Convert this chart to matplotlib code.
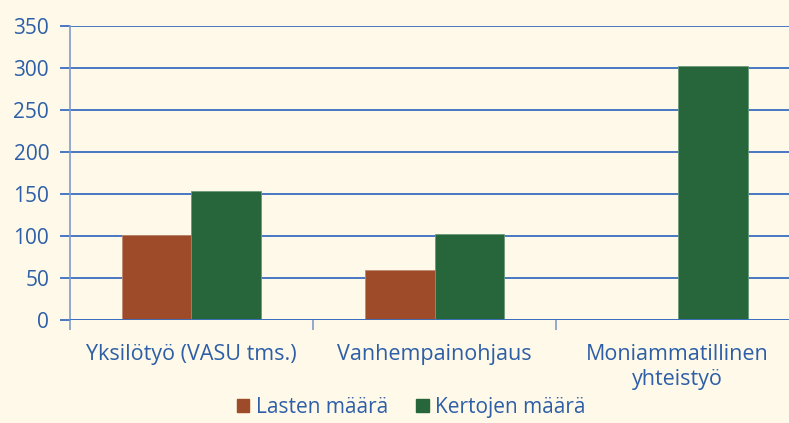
import numpy as np
import matplotlib
matplotlib.use("Agg")
import matplotlib.pyplot as plt
from matplotlib.patches import Patch

plt.rcParams["font.family"] = ["Open Sans", "DejaVu Sans"]

categories = ["Yksilötyö (VASU tms.)", "Vanhempainohjaus", "Moniammatillinen\nyhteistyö"]
lasten = [101, 60, 0]
kertojen = [153, 102, 302]
series_names = ["Lasten määrä", "Kertojen määrä"]

bg = "#FEF9E8"
txt = "#2D5EA8"
grid_c = "#3A6EC0"
red = "#9E4B2A"
green = "#27663A"

fig = plt.figure(figsize=(7.89, 4.23), dpi=100, facecolor=bg)
ax = fig.add_axes([0.0887, 0.2435, 0.924, 0.695], facecolor=bg)

x = np.arange(len(categories))
w = 0.288
ax.bar(x - w / 2, lasten, w, color=red, edgecolor="#C08A70", linewidth=0.6, zorder=3)
ax.bar(x + w / 2, kertojen, w, color=green, edgecolor="#6A9A78", linewidth=0.6, zorder=3)

ax.set_xlim(-0.5, 2.5)
ax.set_ylim(0, 350)
ax.set_yticks(np.arange(0, 351, 50))
ax.yaxis.grid(True, color=grid_c, linewidth=1.3, zorder=0)
ax.set_axisbelow(True)
for s in ["top", "right", "bottom"]:
    ax.spines[s].set_visible(False)
ax.spines["left"].set_color("#7F9CC8")
ax.spines["left"].set_linewidth(1.2)

ax.tick_params(axis="y", colors=grid_c, labelcolor=txt, labelsize=15,
               length=7, width=1.3, pad=8)
ax.set_xticks([-0.5, 0.5, 1.5])
ax.set_xticklabels([])
ax.set_xticks(x, minor=True)
ax.set_xticklabels(categories, minor=True, linespacing=1.3)
ax.tick_params(axis="x", which="major", colors="#7F9CC8", length=7, width=1.2)
ax.tick_params(axis="x", which="minor", length=0, labelcolor=txt, labelsize=15.5, pad=17)
ax.axhline(0, color=grid_c, linewidth=1.3, zorder=4)

handles = [Patch(color=red), Patch(color=green)]
fig.legend(handles, series_names, loc="lower center", bbox_to_anchor=(0.521, -0.032),
           ncol=2, frameon=False, fontsize=15, labelcolor=txt,
           handlelength=0.6, handleheight=0.6, handletextpad=0.3, columnspacing=1.35)

fig.savefig("out.png", dpi=100, facecolor=bg)
